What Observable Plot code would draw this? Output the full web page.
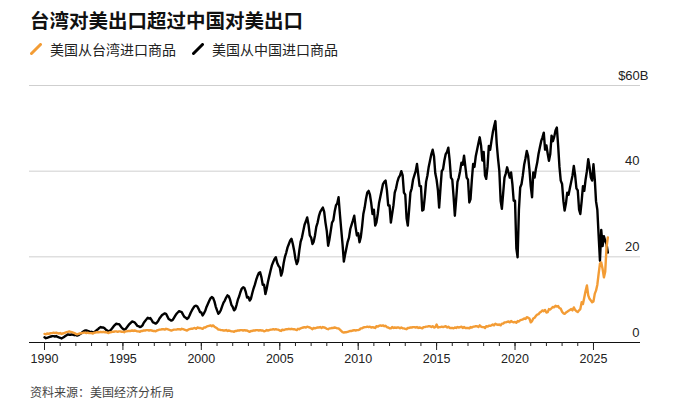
<!DOCTYPE html>
<html>
<head>
<meta charset="utf-8">
<script src="https://cdn.jsdelivr.net/npm/d3@7"></script>
<script src="https://cdn.jsdelivr.net/npm/@observablehq/plot@0.6"></script>
<style>
  html, body { margin: 0; padding: 0; background: #fff; }
  #wrap { position: relative; width: 685px; height: 415px; overflow: hidden; font-family: "Noto Sans CJK SC", "Noto Sans", sans-serif; }
  #title { position: absolute; left: 30px; top: 10px; font-size: 19.5px; font-weight: bold; color: #111; line-height: 1; white-space: nowrap; }
  #legend { position: absolute; left: 30px; top: 42px; font-size: 14px; color: #222; line-height: 1; white-space: nowrap; display: flex; align-items: center; }
  #legend .item { display: flex; align-items: center; }
  #legend svg { margin-right: 8px; }
  #source { position: absolute; left: 30px; top: 386px; font-size: 12px; color: #444; line-height: 1; white-space: nowrap; }
  #chart { position: absolute; left: 0; top: 62px; }
</style>
</head>
<body>
<div id="wrap">
  <div id="title"></div>
  <div id="legend"></div>
  <div id="chart"></div>
  <div id="source"></div>
</div>
<script>
const titleText = "台湾对美出口超过中国对美出口";
const seriesNames = ["美国从台湾进口商品", "美国从中国进口商品"];
const seriesColors = ["#f39c35", "#000000"];
const sourceText = "资料来源：美国经济分析局";
const startYear = 1990;
const yTicks = [0, 20, 40];
const yTopTick = 60;
const yTopLabel = "$60B";
const majorYears = [1990, 1995, 2000, 2005, 2010, 2015, 2020, 2025];
const minorYears = d3.range(1990, 2026);

// US imports from China, $B per month, Jan 1990 – Dec 2025
const china = [
  1.2,1.0,1.1,1.2,1.3,1.4,1.5,1.5,1.4,1.5,1.3,1.2,
  1.1,0.95,1.1,1.3,1.5,1.7,1.9,1.8,1.8,1.9,1.8,1.7,
  1.8,1.6,1.7,1.9,2.1,2.4,2.6,2.8,2.8,2.7,2.6,2.4,
  2.5,2.3,2.4,2.6,2.9,3.1,3.4,3.6,3.5,3.5,3.3,3.0,
  2.8,2.6,2.7,3.0,3.4,3.8,4.1,4.4,4.3,4.3,3.9,3.5,
  3.2,3.0,3.1,3.5,3.9,4.3,4.6,4.9,4.8,4.7,4.3,3.9,
  3.8,3.6,3.7,4.0,4.6,5.0,5.4,5.8,5.6,5.7,5.2,4.7,
  4.6,4.4,4.6,5.0,5.6,6.0,6.4,6.6,6.8,6.7,6.1,5.5,
  5.3,5.1,5.2,5.7,6.2,6.7,7.0,7.3,7.2,7.1,6.5,6.0,
  5.8,5.5,5.7,6.3,7.0,7.6,8.1,8.5,8.6,8.4,7.8,7.1,
  7.0,6.3,6.8,7.4,8.3,9.0,9.7,10.3,10.6,10.4,9.6,8.4,
  7.5,6.7,7.0,7.6,8.5,9.3,9.8,10.5,11.0,10.8,10.0,8.8,
  8.3,7.5,7.8,8.8,10.0,10.8,11.8,12.6,12.9,12.7,11.8,10.5,
  10.6,9.8,10.2,11.5,12.6,13.5,14.6,15.5,16.2,16.4,15.2,13.5,
  13.5,11.3,12.5,14.2,15.5,16.8,18.0,18.8,19.5,19.9,18.6,17.9,
  17.5,15.6,16.5,18.5,20.0,21.0,22.2,23.0,23.8,24.2,23.0,21.5,
  19.5,18.3,19.0,21.5,23.5,24.5,26.0,27.5,28.3,29.2,27.5,25.0,
  24.5,23.0,23.5,25.0,27.0,28.0,29.5,30.5,31.0,31.5,30.5,28.0,
  26.0,22.6,24.0,26.0,28.0,28.5,30.5,32.0,32.5,33.9,30.0,26.5,
  23.0,18.9,20.5,22.0,23.5,24.5,26.5,27.5,28.5,29.6,27.0,25.0,
  25.5,23.4,24.5,27.0,30.0,31.5,33.5,35.0,35.4,34.5,32.5,30.0,
  31.0,27.3,28.0,30.0,32.5,34.0,35.5,37.0,37.5,37.8,35.5,32.0,
  32.0,28.0,30.0,32.0,35.0,36.0,37.5,38.5,39.0,40.0,39.0,35.0,
  34.5,29.0,27.3,31.0,35.0,36.0,38.0,39.0,40.0,41.7,39.0,36.5,
  36.5,30.8,31.0,34.0,37.5,39.0,41.0,42.5,44.0,45.0,43.5,39.5,
  38.0,35.5,31.5,36.0,40.0,40.5,42.5,44.0,44.5,45.5,42.5,38.5,
  38.0,34.0,29.6,33.5,37.5,38.5,40.0,42.0,41.5,43.6,41.0,38.5,
  38.0,32.7,33.5,38.0,41.7,41.0,43.5,45.0,46.5,47.9,46.0,42.5,
  44.5,39.0,38.2,41.0,45.9,45.0,47.0,49.0,50.5,51.7,46.4,43.0,
  40.0,33.0,31.2,35.0,38.5,39.5,40.9,39.7,38.5,39.7,37.0,33.1,
  33.1,22.0,19.9,31.0,36.2,37.0,39.0,41.5,43.0,44.7,43.5,40.5,
  36.5,33.9,39.7,38.5,40.5,42.0,44.0,45.5,47.0,47.9,49.0,45.0,
  46.0,44.0,42.4,44.0,48.3,47.0,48.0,49.5,50.2,46.0,41.0,37.8,
  37.0,33.0,30.8,32.5,35.0,34.5,36.0,37.5,39.0,41.2,39.0,36.0,
  35.5,31.0,30.0,33.0,36.5,35.4,38.0,40.0,42.8,41.0,38.5,37.8,
  41.6,38.0,33.0,31.0,25.0,19.1,26.3,22.5,24.8,23.8,23.0,21.0
];

// US imports from Taiwan, $B per month, Jan 1990 – Dec 2025
const taiwan = [
  2.0,1.9,2.1,2.0,2.1,2.2,2.2,2.3,2.2,2.3,2.2,2.1,
  2.2,2.0,2.1,2.2,2.3,2.4,2.5,2.6,2.5,2.4,2.3,2.2,
  2.0,1.9,2.0,2.1,2.2,2.2,2.3,2.3,2.2,2.3,2.2,2.2,
  2.2,2.1,2.3,2.3,2.4,2.4,2.4,2.5,2.4,2.5,2.4,2.4,
  2.3,2.2,2.4,2.4,2.5,2.5,2.6,2.6,2.5,2.6,2.6,2.5,
  2.5,2.4,2.6,2.6,2.7,2.7,2.7,2.8,2.7,2.8,2.7,2.6,
  2.6,2.5,2.7,2.7,2.8,2.8,2.9,2.9,2.8,2.9,2.8,2.7,
  2.7,2.6,2.8,2.9,3.0,3.0,3.1,3.1,3.0,3.2,3.1,3.0,
  2.9,2.8,2.9,3.0,3.0,3.0,3.1,3.1,3.0,3.2,3.1,3.0,
  2.9,2.8,3.0,3.1,3.2,3.2,3.3,3.4,3.2,3.5,3.4,3.4,
  3.3,3.2,3.5,3.5,3.7,3.8,3.9,4.0,3.8,4.0,3.7,3.5,
  3.3,3.0,3.0,2.9,2.9,2.8,2.8,2.9,2.7,2.8,2.7,2.6,
  2.6,2.5,2.7,2.7,2.8,2.8,2.9,2.9,2.8,2.9,2.8,2.8,
  2.6,2.5,2.7,2.7,2.8,2.8,2.9,2.9,2.8,2.9,2.8,2.8,
  2.6,2.7,2.9,2.8,2.9,3.0,3.0,3.1,3.0,3.1,3.0,3.0,
  2.8,2.7,3.0,2.9,3.0,3.1,3.1,3.2,3.1,3.2,3.1,3.1,
  3.0,2.9,3.2,3.1,3.3,3.4,3.5,3.6,3.5,3.7,3.6,3.5,
  3.3,3.1,3.4,3.3,3.4,3.5,3.5,3.6,3.4,3.6,3.5,3.4,
  3.2,3.1,3.3,3.3,3.4,3.4,3.5,3.4,3.3,3.3,3.0,2.7,
  2.4,2.3,2.4,2.4,2.5,2.6,2.7,2.7,2.8,2.9,2.8,2.9,
  2.9,3.0,3.3,3.3,3.5,3.6,3.6,3.7,3.6,3.7,3.5,3.6,
  3.5,3.4,3.8,3.7,3.9,4.0,3.9,4.0,3.8,3.9,3.6,3.5,
  3.3,3.3,3.6,3.4,3.5,3.4,3.5,3.5,3.3,3.5,3.3,3.3,
  3.2,3.1,3.4,3.4,3.5,3.5,3.6,3.6,3.5,3.6,3.4,3.5,
  3.4,3.3,3.6,3.6,3.7,3.7,3.8,3.8,3.6,3.8,3.5,3.6,
  4.2,3.5,3.6,3.6,3.7,3.6,3.7,3.8,3.5,3.7,3.4,3.4,
  3.4,3.3,3.5,3.4,3.6,3.5,3.6,3.7,3.4,3.6,3.4,3.4,
  3.4,3.3,3.6,3.5,3.7,3.7,3.8,3.8,3.6,4.0,3.7,3.6,
  3.6,3.4,3.8,3.7,3.9,3.9,4.0,4.2,4.0,4.4,4.2,4.1,
  4.2,4.0,4.4,4.4,4.7,4.7,4.8,4.9,4.7,5.0,4.8,4.7,
  4.8,4.6,5.0,4.9,5.2,5.3,5.4,5.6,5.5,5.9,5.8,5.6,
  4.7,5.0,5.6,5.8,6.2,6.5,6.6,7.0,7.2,7.5,7.3,7.6,
  7.0,7.1,7.8,7.7,8.0,8.3,8.2,8.6,8.4,8.5,8.0,7.9,
  7.2,6.8,6.7,7.0,7.2,7.4,7.6,7.8,7.5,8.2,7.6,7.3,
  7.1,7.5,7.8,9.4,9.0,10.5,12.0,13.3,11.0,10.2,9.8,9.4,
  9.6,11.4,12.1,13.5,16.0,18.4,18.7,17.2,15.2,16.5,22.2,24.5
];

const monthDate = i => new Date(Date.UTC(startYear + Math.floor(i / 12), i % 12, 1));
const chinaData = china.map((v, i) => ({date: monthDate(i), value: v}));
const taiwanData = taiwan.map((v, i) => ({date: monthDate(i), value: v}));
const yearDate = y => new Date(Date.UTC(y, 0, 1));
const fracDate = f => new Date(Date.UTC(1970, 0, 1) + (f - 1970) * 365.2425 * 864e5);

// header + legend + source as real text
document.getElementById("title").textContent = titleText;
document.getElementById("source").textContent = sourceText;
const legend = document.getElementById("legend");
seriesNames.forEach((name, i) => {
  const item = document.createElement("span");
  item.className = "item";
  item.style.marginRight = i === 0 ? "16px" : "0";
  item.innerHTML = `<svg width="12" height="12" viewBox="0 0 12 12"><line x1="1.5" y1="10.5" x2="10.5" y2="1.5" stroke="${seriesColors[i]}" stroke-width="3" stroke-linecap="round"/></svg><span>${name}</span>`;
  legend.appendChild(item);
});

const chart = Plot.plot({
  width: 685,
  height: 315,
  marginTop: 23,
  marginBottom: 35,
  marginLeft: 29,
  marginRight: 45,
  style: {fontFamily: "'Liberation Sans', Arial, sans-serif", fontSize: "12.5px", color: "#222", background: "transparent"},
  x: {type: "utc", domain: [fracDate(1989.044), fracDate(2028.0)], axis: null},
  y: {domain: [0, 60], axis: null},
  marks: [
    Plot.ruleY([...yTicks.filter(d => d > 0), yTopTick], {stroke: "#cfcfcf", strokeWidth: 1}),
    Plot.text(yTicks, {y: d => d, text: d => String(d), frameAnchor: "right", textAnchor: "end", dx: -1, dy: -10, fontSize: 13, fill: "#222"}),
    Plot.text([yTopTick], {y: d => d, text: () => yTopLabel, frameAnchor: "right", textAnchor: "end", dx: 8, dy: -10, fontSize: 13, fill: "#222"}),
    Plot.line(chinaData, {x: "date", y: "value", stroke: seriesColors[1], strokeWidth: 2.4, strokeLinejoin: "round"}),
    Plot.line(taiwanData, {x: "date", y: "value", stroke: seriesColors[0], strokeWidth: 2.4, strokeLinejoin: "round"}),
    Plot.ruleY([0], {stroke: "#111", strokeWidth: 1.2}),
    Plot.axisX(minorYears.map(yearDate), {tickSize: 4, tickFormat: () => "", stroke: "#222"}),
    Plot.axisX(majorYears.map(yearDate), {tickSize: 8, tickPadding: 4, tickFormat: d => String(d.getUTCFullYear()), stroke: "#222", fill: "#222", fontSize: 12.5})
  ]
});
document.getElementById("chart").appendChild(chart);
</script>
</body>
</html>
